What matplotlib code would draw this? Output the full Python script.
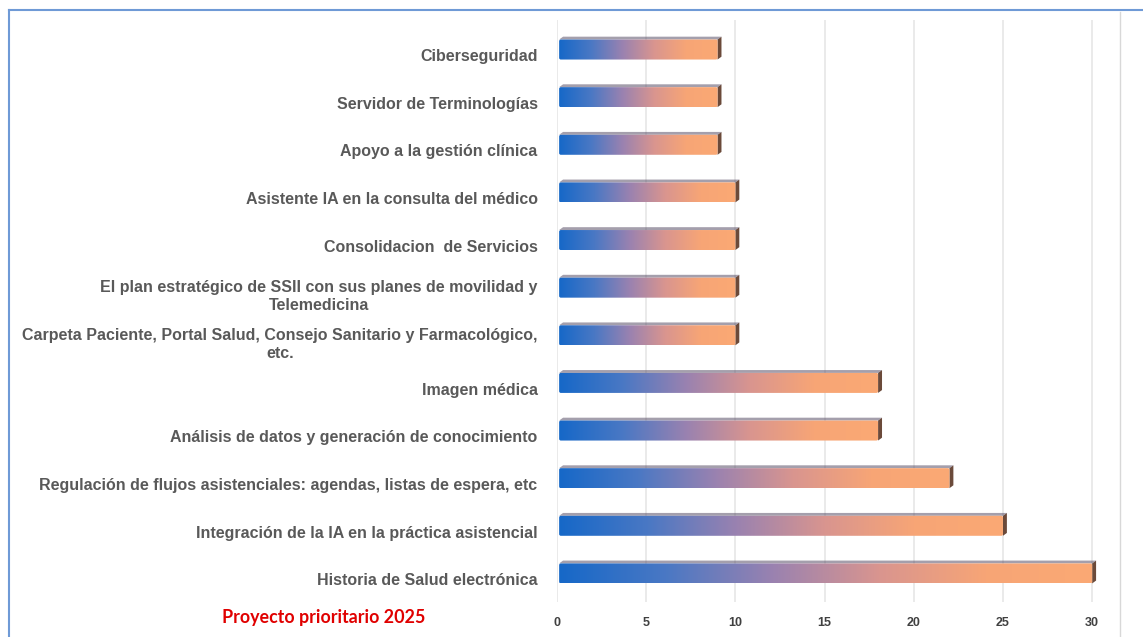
import matplotlib

matplotlib.use("Agg", force=True)
import matplotlib.pyplot as plt
import numpy as np
from matplotlib.colors import LinearSegmentedColormap
from matplotlib.lines import Line2D
from matplotlib.patches import FancyBboxPatch, Polygon

# data, bottom to top
categories = [
    "Historia de Salud electrónica",
    "Integración de la IA en la práctica asistencial",
    "Regulación de flujos asistenciales: agendas, listas de espera, etc",
    "Análisis de datos y generación de conocimiento",
    "Imagen médica",
    "Carpeta Paciente, Portal Salud, Consejo Sanitario y Farmacológico,\netc.",
    "El plan estratégico de SSII con sus planes de movilidad y\nTelemedicina",
    "Consolidacion  de Servicios",
    "Asistente IA en la consulta del médico",
    "Apoyo a la gestión clínica",
    "Servidor de Terminologías",
    "Ciberseguridad",
]
values = [30, 25, 22, 18, 18, 10, 10, 10, 10, 9, 9, 9]
xticks = [0, 5, 10, 15, 20, 25, 30]
note = "Proyecto prioritario 2025"

W, H = 1143, 637
fig = plt.figure(figsize=(W / 100, H / 100), dpi=100)
ax = fig.add_axes([557 / W, 1 - 602 / H, (1110 - 557) / W, (602 - 20) / H])

cmap = LinearSegmentedColormap.from_list(
    "bar", ["#1668c8", "#4a78c4", "#9a82b0", "#d9958f", "#f7a576", "#fba974"]
)
grad = np.linspace(0, 1, 256).reshape(1, -1)
bar_h = 0.42
shift = 0.12  # bars sit a little above their labels
depth_x, depth_y = 0.22, 0.06

for i, v in enumerate(values):
    y0 = i + shift - bar_h / 2
    x0 = 0.12
    # 3d side cap and top edge
    cap = Polygon(
        [(v, y0), (v + depth_x, y0 + depth_y), (v + depth_x, y0 + bar_h + depth_y), (v, y0 + bar_h)],
        closed=True, facecolor="#6b4a3a", edgecolor="none", zorder=2,
    )
    ax.add_patch(cap)
    top = Polygon(
        [(x0, y0 + bar_h), (x0 + depth_x, y0 + bar_h + depth_y), (v + depth_x, y0 + bar_h + depth_y), (v, y0 + bar_h)],
        closed=True, facecolor="#5a5068", edgecolor="none", alpha=0.55, zorder=2,
    )
    ax.add_patch(top)
    im = ax.imshow(grad, cmap=cmap, aspect="auto", extent=(x0, v, y0, y0 + bar_h),
                   interpolation="bilinear", zorder=3)
    clip = FancyBboxPatch((x0, y0), v - x0, bar_h, boxstyle="round,pad=0,rounding_size=0.1",
                          mutation_aspect=0.35, transform=ax.transData)
    im.set_clip_path(clip)

ax.set_xlim(0, 31)
ax.set_ylim(-0.48, 11.74)
ax.set_xticks(xticks)
ax.set_xticklabels([str(t) for t in xticks], fontsize=9, fontweight="bold",
                   color="#404040", family="Liberation Sans")
ax.set_yticks(range(len(categories)))
ax.set_yticklabels(categories, fontsize=11.5, fontweight="bold", color="#595959",
                   family="Liberation Sans", ha="right", multialignment="center",
                   linespacing=1.3)
ax.tick_params(axis="y", length=0, pad=14)
ax.tick_params(axis="x", length=0, pad=11)
for sp in ax.spines.values():
    sp.set_visible(False)
ax.set_axisbelow(True)
ax.xaxis.grid(True, color="#e6e6e6", linewidth=1.2)

fig.text(222 / W, 1 - 617 / H, note, color="#e00000", fontsize=12.9,
         fontweight="bold", family="Lato", va="center", ha="left")

# frame lines
fig.add_artist(Line2D([9 / W, 9 / W], [0, 1 - 10 / H], color="#6f9ad6", linewidth=1.5))
fig.add_artist(Line2D([9 / W, 1], [1 - 10 / H, 1 - 10 / H], color="#6f9ad6", linewidth=1.5))
fig.add_artist(Line2D([1120 / W, 1120 / W], [0, 1 - 12 / H], color="#d8d8d8", linewidth=1))

fig.savefig("out.png", dpi=100)
